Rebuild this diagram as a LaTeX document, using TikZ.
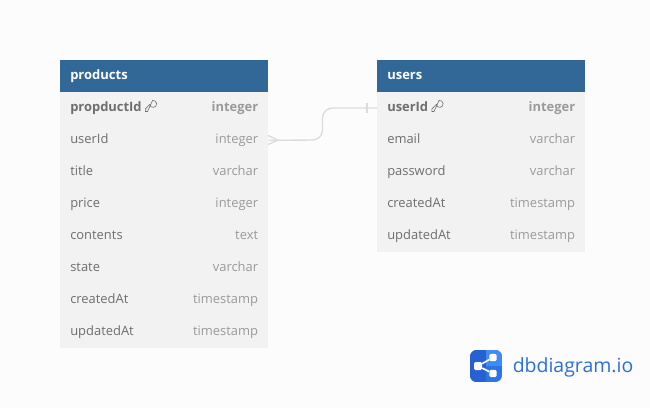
\documentclass[tikz,border=0pt]{standalone}
\usepackage{fontspec}
\setmainfont{Open Sans}
\definecolor{bgc}{HTML}{FCFCFC}
\definecolor{headc}{HTML}{316897}
\definecolor{rowc}{HTML}{F2F2F2}
\definecolor{namec}{HTML}{6E6E6E}
\definecolor{typec}{HTML}{9A9A9A}
\definecolor{linkc}{HTML}{DCDCDC}
\definecolor{logoa}{HTML}{2561D0}
\definecolor{logob}{HTML}{3F8CF5}
\definecolor{logoc}{HTML}{2F74E6}
\definecolor{logot}{HTML}{2C6FD8}
\tikzset{
  x=0.75pt,y=-0.75pt,
  headbox/.style={fill=headc,minimum width=156pt,minimum height=24pt,inner sep=0pt,anchor=north west},
  headtext/.style={text=white,font=\fontsize{9.75pt}{12pt}\selectfont\bfseries,inner sep=0pt,anchor=base west},
  rowbox/.style={fill=rowc,minimum width=156pt,minimum height=24pt,inner sep=0pt,anchor=north west},
  cname/.style={text=namec,font=\fontsize{9.7pt}{12pt}\selectfont,inner sep=0pt,anchor=base west},
  ctype/.style={text=typec,font=\fontsize{9.7pt}{12pt}\selectfont,inner sep=0pt,anchor=base east},
  pk/.style={font=\fontsize{9.7pt}{12pt}\selectfont\bfseries},
  keyicon/.style={draw=namec,line width=0.45pt,line join=round},
  link/.style={draw=linkc,line width=1pt},
  logotext/.style={text=logot,font=\fontsize{14.6pt}{16pt}\selectfont,inner sep=0pt,anchor=base west},
  logosq/.style={fill=white,rounded corners=1pt,minimum size=5.4pt,inner sep=0pt}
}
\newcommand{\keyglyph}[1]{%
  \begin{scope}[shift={(#1)}]
    \draw[keyicon] (-0.8,-2) arc[start angle=170,end angle=-100,radius=3.5] -- (-3,5) -- (-5.2,5) -- (-5.2,2.6) -- cycle;
  \end{scope}
}
\begin{document}
\begin{tikzpicture}
\useasboundingbox (0,0) rectangle (650,408);
\fill[bgc] (0,0) rectangle (650,408);
% products table
\node[headbox] (ph) at (60,60) {};
\node[headtext] (pht) at (70,79) {products};
\foreach \n/\y in {ra/92,rb/124,rc/156,rd/188,re/220,rf/252,rg/284,rh/316}
  \node[rowbox] (p\n) at (60,\y) {};
\node[cname,pk] (pan) at (70,111.3) {propductId};
\node[ctype,pk] (pat) at (258.4,111.3) {integer};
\node[cname] (pbn) at (70,143.3) {userId};
\node[ctype] (pbt) at (258.4,143.3) {integer};
\node[cname] (pcn) at (70,175.3) {title};
\node[ctype] (pct) at (258.4,175.3) {varchar};
\node[cname] (pdn) at (70,207.3) {price};
\node[ctype] (pdt) at (258.4,207.3) {integer};
\node[cname] (pen) at (70,239.3) {contents};
\node[ctype] (pet) at (258.4,239.3) {text};
\node[cname] (pfn) at (70,271.3) {state};
\node[ctype] (pft) at (258.4,271.3) {varchar};
\node[cname] (pgn) at (70,303.3) {createdAt};
\node[ctype] (pgt) at (258.4,303.3) {timestamp};
\node[cname] (phn) at (70,335.3) {updatedAt};
\node[ctype] (phtt) at (258.4,335.3) {timestamp};
% users table
\node[headbox] (uh) at (377,60) {};
\node[headtext] (uht) at (387,79) {users};
\foreach \n/\y in {ra/92,rb/124,rc/156,rd/188,re/220}
  \node[rowbox] (u\n) at (377,\y) {};
\node[cname,pk] (uan) at (387,111.3) {userId};
\node[ctype,pk] (uat) at (575.4,111.3) {integer};
\node[cname] (ubn) at (387,143.3) {email};
\node[ctype] (ubt) at (575.4,143.3) {varchar};
\node[cname] (ucn) at (387,175.3) {password};
\node[ctype] (uct) at (575.4,175.3) {varchar};
\node[cname] (udn) at (387,207.3) {createdAt};
\node[ctype] (udt) at (575.4,207.3) {timestamp};
\node[cname] (uen) at (387,239.3) {updatedAt};
\node[ctype] (uet) at (575.4,239.3) {timestamp};
% key icons
\keyglyph{150.5,106.5}
\keyglyph{437,106.5}
% relation
\coordinate (m1) at (322.5,140);
\coordinate (m2) at (322.5,108);
\draw[link,rounded corners=7.5pt] (prb.east) -- (m1) -- (m2) -- (ura.west |- m2);
\coordinate (cf) at (278,140);
\draw[link] (cf) -- (268,135.5);
\draw[link] (cf) -- (268,144.5);
\draw[link] (367,103) -- (367,113);
% logo
\begin{scope}
\clip[rounded corners=5pt] (470,350) rectangle (502,382);
\fill[logoc] (470,350) rectangle (502,382);
\fill[logob] (486,350) rectangle (502,366);
\fill[logoa] (470,350) rectangle (486,382);
\end{scope}
\node[logosq,minimum size=6pt] (sl) at (478,366) {};
\node[logosq] (st) at (493,357.5) {};
\node[logosq] (sb) at (493,373.5) {};
\draw[white,line width=1.2pt] (st) -- (sl) -- (sb);
\node[logotext] (logo) at (512.5,372) {dbdiagram.io};
\end{tikzpicture}
\end{document}
